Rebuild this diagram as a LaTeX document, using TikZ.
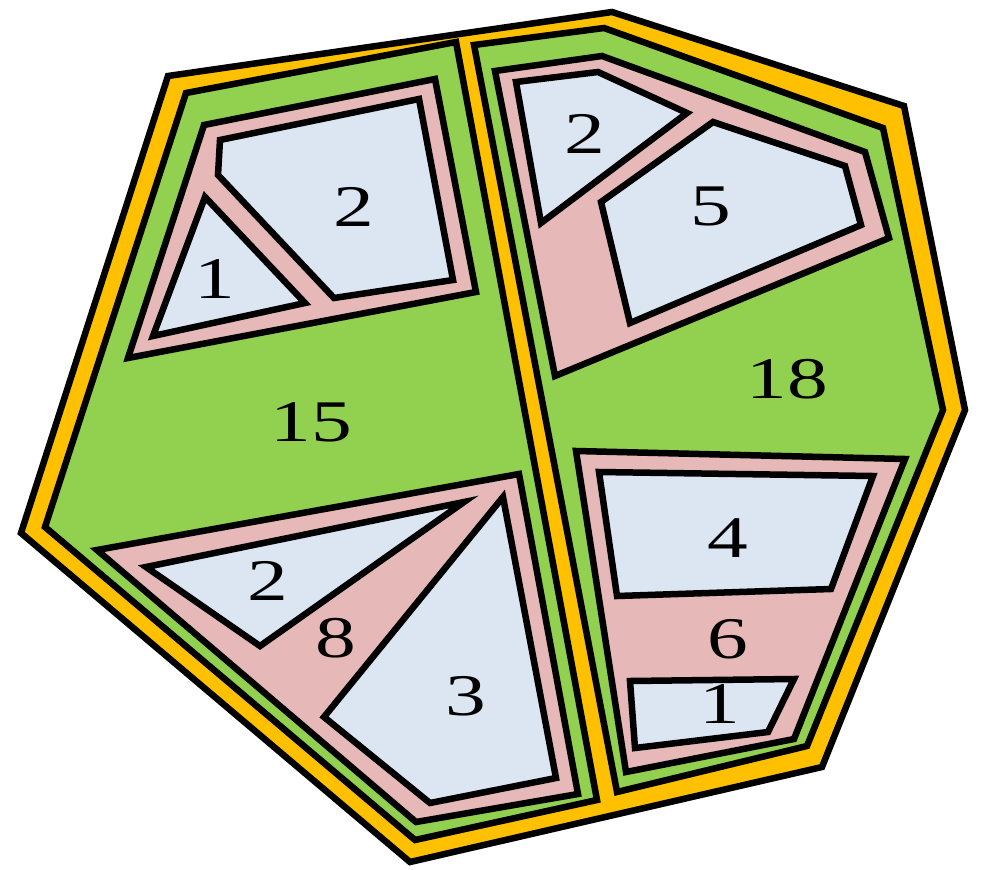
\documentclass[tikz,border=0pt]{standalone}
\usepackage{fontspec}
\setmainfont{Liberation Serif}
\usepackage{graphicx}
\definecolor{orng}{HTML}{FFC000}
\definecolor{grn}{HTML}{92D050}
\definecolor{pnk}{HTML}{E6B8B7}
\definecolor{lblue}{HTML}{DCE6F2}
\begin{document}
\begin{tikzpicture}[x=1pt,y=-1pt,
  region/.style={draw=black, line width=6.5pt, line join=miter, miter limit=10},
  outerreg/.style={region, fill=orng},
  greenreg/.style={region, fill=grn},
  pinkreg/.style={region, fill=pnk},
  bluereg/.style={region, fill=lblue},
  lbl/.style={inner sep=0pt, font=\fontsize{59}{60}\selectfont}]
\useasboundingbox (0,0) rectangle (981,869);
% outer orange
\draw[outerreg] (168,76) -- (612,12) -- (904,106) -- (965,410) -- (822,767) -- (410,862) -- (21,533) -- cycle;
% left green
\draw[greenreg] (186,93) -- (456,42) -- (597,800) -- (415,840) -- (45,527) -- cycle;
% right green
\draw[greenreg] (474,45) -- (604,28) -- (883,128) -- (943,410) -- (807,746) -- (617,792) -- cycle;
% left top pink
\draw[pinkreg] (204,125) -- (435,79) -- (476,292) -- (128,358) -- cycle;
\draw[bluereg] (205,197) -- (305,303) -- (153,336) -- cycle;
\draw[bluereg] (220,140) -- (419,99) -- (453,280) -- (334,298) -- (218,175) -- cycle;
% left bottom pink
\draw[pinkreg] (97,550) -- (519,474) -- (578,794) -- (416,822) -- cycle;
\draw[bluereg] (146,567) -- (464,502) -- (260,646) -- cycle;
\draw[bluereg] (503,497) -- (556,778) -- (430,803) -- (324,717) -- cycle;
% right top pink
\draw[pinkreg] (495,71) -- (602,56) -- (865,152) -- (889,238) -- (555,376) -- cycle;
\draw[bluereg] (516,82) -- (598,72) -- (687,113) -- (541,223) -- cycle;
\draw[bluereg] (713,122) -- (845,166) -- (861,225) -- (630,323) -- (601,202) -- cycle;
% right bottom pink
\draw[pinkreg] (576,451) -- (905,459) -- (794,739) -- (626,772) -- cycle;
\draw[bluereg] (599,472) -- (873,476) -- (831,589) -- (617,596) -- cycle;
\draw[bluereg] (630,681) -- (794,679) -- (768,732) -- (635,748) -- cycle;
% labels
\node[lbl] (a1) at (215,279) {\scalebox{1.38}[1]{1}};
\node[lbl] (a2) at (354,207) {\scalebox{1.38}[1]{2}};
\node[lbl] (a15) at (311,422) {\scalebox{1.38}[1]{15}};
\node[lbl] (b2) at (268,581) {\scalebox{1.38}[1]{2}};
\node[lbl] (b8) at (336,638) {\scalebox{1.38}[1]{8}};
\node[lbl] (b3) at (466,696) {\scalebox{1.38}[1]{3}};
\node[lbl] (c2) at (585,134) {\scalebox{1.38}[1]{2}};
\node[lbl] (c5) at (711,206) {\scalebox{1.38}[1]{5}};
\node[lbl] (c18) at (787,379) {\scalebox{1.38}[1]{18}};
\node[lbl] (d4) at (728,538) {\scalebox{1.38}[1]{4}};
\node[lbl] (d6) at (728,639) {\scalebox{1.38}[1]{6}};
\node[lbl] (d1) at (720,704) {\scalebox{1.38}[1]{1}};
\end{tikzpicture}
\end{document}
